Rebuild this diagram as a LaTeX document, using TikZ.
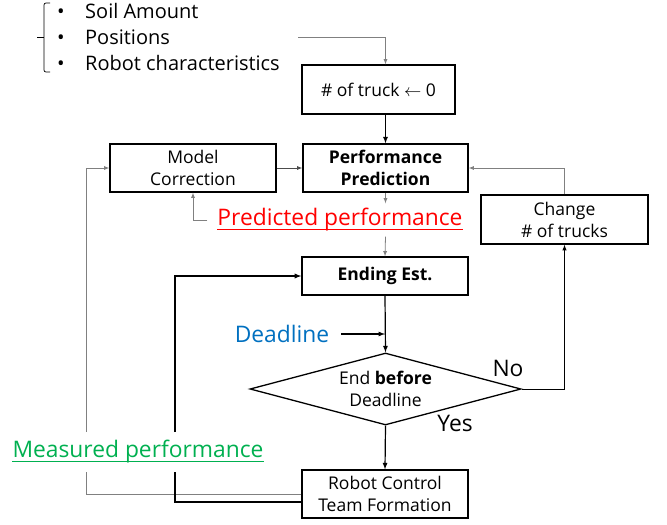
\documentclass[tikz,border=0pt]{standalone}
\usepackage{amsmath}
\usepackage{xcolor}
\usepackage{fontspec}
\setmainfont{Open Sans}
\usepackage{tikz}
\usetikzlibrary{arrows}
\usetikzlibrary{shapes}
\definecolor{predred}{HTML}{FF0000}
\definecolor{deadblue}{HTML}{0070C0}
\definecolor{measgreen}{HTML}{00B050}
\definecolor{linegray}{HTML}{808080}

\begin{document}
\begin{tikzpicture}[x=1pt, y=-1pt,
        box/.style={draw, line width=1.3pt, inner sep=0pt, align=center,
            font=\fontsize{17.5}{22}\selectfont},
        flow/.style={-latex, line width=1.2pt},
        thin/.style={-latex, line width=0.8pt, linegray},
        lbl/.style={inner sep=0pt, font=\fontsize{22.8}{26}\selectfont},
        item/.style={anchor=base west, inner sep=0pt, font=\fontsize{20}{24}\selectfont}]
        \useasboundingbox (0,0) rectangle (667,525);

        % Draw the list of inputs with its bracket
        \foreach \y/\txt/\nm in {18/Soil Amount/soil, 44/Positions/pos, 70/Robot characteristics/rob} {
            \node[item] at (57,\y) {•};
            \node[item] (\nm) at (85,\y) {\txt};
        }
        \draw[line width=0.7pt, rounded corners=2pt] (50,3) -- (44,3) -- (44,72) -- (50,72);
        \draw[line width=0.7pt] (37,37) -- (44,37);
        \coordinate (inpt) at (298,37);

        % Draw the boxes
        \node[box, minimum width=153, minimum height=49] (trk) at (378.5,89.5) {\# of truck $\leftarrow$ 0};
        \node[box, minimum width=166, minimum height=48] (mc) at (193,168) {Model\\Correction};
        \node[box, minimum width=165, minimum height=48] (pp) at (385.5,168) {\textbf{Performance}\\\textbf{Prediction}};
        \node[box, minimum width=167, minimum height=49] (chg) at (564.5,219.5) {Change\\\# of trucks};
        \node[box, minimum width=166, minimum height=38] (est) at (385,276) {\textbf{Ending Est.}};
        \node[draw, diamond, line width=1.3pt, inner sep=0pt, aspect=3.76,
            minimum width=271, minimum height=72, align=center,
            font=\fontsize{17.5}{22}\selectfont] (dia) at (385.5,389) {End \textbf{before}\\Deadline};
        \node[box, minimum width=166, minimum height=48] (rc) at (385,494) {Robot Control\\Team Formation};

        % Draw the coloured labels
        \node[lbl, predred, inner ysep=5pt] (pred) at (340,220) {Predicted performance};
        \draw[predred, line width=1pt] ([yshift=-4pt]pred.base west) -- ([yshift=-4pt]pred.base east);
        \node[lbl, deadblue] (dl) at (282,334) {Deadline};
        \node[lbl, measgreen, inner ysep=4pt] (meas) at (138,452) {Measured performance};
        \draw[measgreen, line width=1pt] ([yshift=-4pt]meas.base west) -- ([yshift=-4pt]meas.base east);
        \node[lbl] (no) at (508,368) {No};
        \node[lbl] (yes) at (455,423) {Yes};

        % Draw the main flow
        \draw[thin] (inpt) -| (pp.north |- trk.north);
        \draw[flow] (pp.north |- trk.south) -- (pp.north);
        \draw[thin, black!70] (mc.east) -- (pp.west);
        \draw[thin] (pp.south) -- (pp.south |- pred.north);
        \draw[thin] (pp.south |- pred.south) -- (est.north);
        \draw[thin] ([xshift=-10pt]pred.west) -| (mc.south);
        \draw[flow] (est.south) -- (dia.north);
        \draw[flow] ([xshift=12pt]dl.east) -- (dl.east -| est.south);
        \draw[flow] (dia.south) -- (rc.north);

        % Draw the loop over the number of trucks
        \draw[flow, line width=1pt] (dia.east) -| (chg.south);
        \draw[thin] (chg.north) |- (pp.east);

        % Draw the feedback from the robots
        \draw[line width=0.8pt, linegray] (rc.west) -| (86,472);
        \draw[thin] (86,432) |- (mc.west);
        \draw[line width=1.3pt] ([yshift=-8pt]rc.west) -| (175,472);
        \draw[flow, line width=1.3pt] (175,432) |- (est.west);
    \end{tikzpicture}
\end{document}
